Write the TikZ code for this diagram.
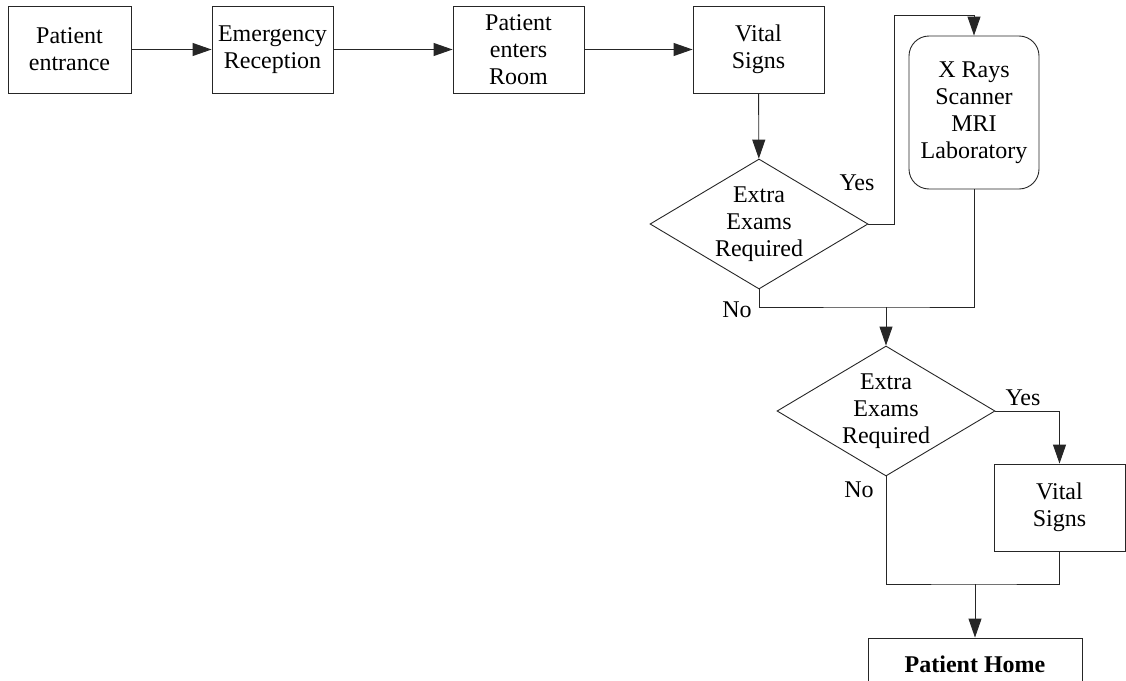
\documentclass[tikz,border=0pt]{standalone}
\usepackage{fontspec}
\setmainfont{Liberation Serif}
\usetikzlibrary{shapes.geometric, arrows.meta}

\begin{document}
\begin{tikzpicture}[x=1pt, y=-1pt,
  line width=0.9pt, draw=black!85,
  font=\fontsize{24}{27}\selectfont,
  flow/.style={-{Triangle[length=19pt,width=13pt]}},
  box/.style={draw, align=center, inner sep=0pt, minimum height=87pt},
  decision/.style={draw, diamond, inner sep=0pt, minimum width=218pt, minimum height=130pt},
  answer/.style={inner sep=0pt}]
% Frame of the picture
\clip (0,0) rectangle (1126,680);
% Admission chain along the top
\node[box, minimum width=123pt] (entrance) at (69.5,49.5) {Patient\\entrance};
\node[box, minimum width=121pt] (reception) at (272.5,49.5) {Emergency\\Reception};
\node[box, minimum width=131pt] (room) at (518.5,49.5) {Patient\\enters\\Room};
\node[box, minimum width=131pt] (vital) at (758.5,49.5) {Vital\\Signs};
\node[box, rounded corners=20pt, minimum width=130pt, minimum height=153pt] (exams) at (974,112.5) {X Rays\\Scanner\\MRI\\Laboratory};
% First decision
\node[decision] (check) at (759,224) {};
\node[align=center, inner sep=0pt] (checktext) at (check) {Extra\\Exams\\Required};
\node[answer] (yesA) at (857,183) {Yes};
\node[answer] (noA) at (737,310) {No};
% Second decision
\node[decision] (recheck) at (886,411) {};
\node[align=center, inner sep=0pt] (rechecktext) at (recheck) {Extra\\Exams\\Required};
\node[answer] (yesB) at (1023,398) {Yes};
\node[answer] (noB) at (859,490) {No};
\node[box, minimum width=131pt] (vital2) at (1059.5,507.5) {Vital\\Signs};
\node[box, minimum width=214pt, minimum height=52pt] (home) at (975,664) {\bfseries Patient Home};
% Connectors
\draw[flow] (entrance) -- (reception);
\draw[flow] (reception) -- (room);
\draw[flow] (room) -- (vital);
\draw[flow] (vital) -- (check);
\coordinate (up) at (894,15);
\draw[flow] (check.east) -| (up) -| (exams.north);
\coordinate (merge1) at (886,307);
\draw (check.south) |- (merge1) -| (exams.south);
\draw[flow] (merge1) -- (recheck.north);
\draw[flow] (recheck.east) -| (vital2.north);
\coordinate (merge2) at (975,584);
\draw (recheck.south) |- (merge2) -| (vital2.south);
\draw[flow] (merge2) -- (home.north);
\end{tikzpicture}
\end{document}
